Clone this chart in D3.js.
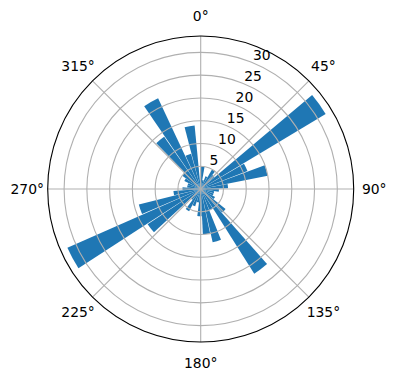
<!DOCTYPE html>
<html>
<head>
<meta charset="utf-8">
<script src="https://cdn.jsdelivr.net/npm/d3@7"></script>
<style>
  html, body { margin: 0; padding: 0; background: #fff; }
  svg { display: block; }
  text { font-family: "DejaVu Sans", sans-serif; font-size: 13.9px; fill: #000; }
</style>
</head>
<body>
<svg id="chart" width="396" height="380"></svg>
<script>
// Bin centres (degrees, clockwise from north) and counts
const binStart = 5.2;
const binStep = 9.85;
const counts = [5, 2, 3, 5, 4, 32, 11, 15, 6, 4, 3, 3,
                3.6, 7, 22, 5, 12, 10, 6, 3, 4, 5.5, 3, 14,
                32, 14, 6, 4, 3, 3, 4, 5, 14, 22, 8, 14];
const angles = counts.map((_, i) => binStart + i * binStep);
const radialTicks = [5, 10, 15, 20, 25, 30];
const thetaTicks = [0, 45, 90, 135, 180, 225, 270, 315];
const rMax = 33.6;

const svg = d3.select("#chart");
const cx = 200.7, cy = 189, R = 153;
const g = svg.append("g").attr("transform", `translate(${cx},${cy})`);

const r = d3.scaleLinear().domain([0, rMax]).range([0, R]);
const a = d3.scaleLinear().domain([0, 360]).range([0, 2 * Math.PI]);
const barWidth = binStep * 0.93;

// bars
const arc = d3.arc()
  .innerRadius(0)
  .outerRadius(d => r(d.v))
  .startAngle(d => a(d.c - barWidth / 2))
  .endAngle(d => a(d.c + barWidth / 2));

g.selectAll("path.bar")
  .data(angles.map((c, i) => ({ c, v: counts[i] })))
  .join("path")
  .attr("class", "bar")
  .attr("d", arc)
  .attr("fill", "#1f77b4");

// grid rings
g.selectAll("circle.ring")
  .data(radialTicks)
  .join("circle")
  .attr("r", d => r(d))
  .attr("fill", "none")
  .attr("stroke", "#b0b0b0")
  .attr("stroke-width", 1.1);

// spokes
g.selectAll("line.spoke")
  .data(thetaTicks)
  .join("line")
  .attr("x1", 0).attr("y1", 0)
  .attr("x2", d => R * Math.sin(a(d)))
  .attr("y2", d => -R * Math.cos(a(d)))
  .attr("stroke", "#b0b0b0")
  .attr("stroke-width", 1.1);

// outer circle
g.append("circle")
  .attr("r", R)
  .attr("fill", "none")
  .attr("stroke", "#000")
  .attr("stroke-width", 1.1);

// radial labels at 22.5 deg
const la = a(22.5);
g.selectAll("text.rlab")
  .data(radialTicks)
  .join("text")
  .attr("x", d => r(d) * Math.sin(la))
  .attr("y", d => -r(d) * Math.cos(la) - 3)
  .attr("text-anchor", "start")
  .text(d => d);

// theta labels
const labR = 173.5;
g.selectAll("text.tlab")
  .data(thetaTicks)
  .join("text")
  .attr("x", d => labR * Math.sin(a(d)))
  .attr("y", d => -labR * Math.cos(a(d)))
  .attr("text-anchor", "middle")
  .attr("dominant-baseline", "central")
  .text(d => d + "°");
</script>
</body>
</html>
